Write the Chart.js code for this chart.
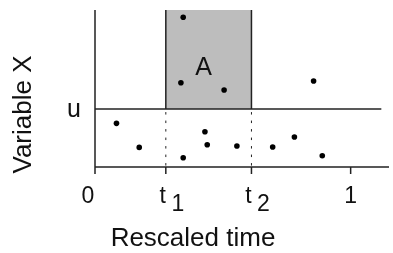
<!DOCTYPE html>
<html>
<head>
<meta charset="utf-8">
<script src="https://cdn.jsdelivr.net/npm/chart.js@4.4.1/dist/chart.umd.min.js"></script>
<style>
html, body { margin: 0; padding: 0; background: #fff; }
</style>
</head>
<body>
<canvas id="canvas" width="393" height="253"></canvas>
<script>
// observations, rescaled time vs variable X
var timeValues = [0.084, 0.173, 0.336, 0.345, 0.345, 0.430, 0.439, 0.505, 0.555, 0.695, 0.780, 0.855, 0.889];
var xValues    = [0.278, 0.125, 0.537, 0.954, 0.059, 0.225, 0.142, 0.490, 0.134, 0.127, 0.191, 0.548, 0.072];

var u = 0.369;
var t1 = 0.277;
var t2 = 0.612;
var tickValues = [0, t1, t2, 1];
var tickLabels = ['0', 't', 't', '1'];
var tickSubs = ['', '1', '2', ''];

var FONT = '"Liberation Sans", Arial, Helvetica, sans-serif';

var pts = [];
for (var i = 0; i < timeValues.length; i++) {
	pts.push({x: timeValues[i], y: xValues[i]});
}

var sketch = {
	id: 'sketch',
	beforeDatasetsDraw: function(chart) {
		var ctx = chart.ctx;
		var xs = chart.scales.x, ys = chart.scales.y;
		var a = chart.chartArea;
		var x1 = xs.getPixelForValue(t1), x2 = xs.getPixelForValue(t2);
		var yu = ys.getPixelForValue(u), yTop = ys.getPixelForValue(1);
		ctx.save();
		// region A
		ctx.fillStyle = '#bdbdbd';
		ctx.fillRect(x1, yTop, x2 - x1, yu - yTop);
		ctx.strokeStyle = '#222';
		ctx.lineWidth = 1.5;
		ctx.beginPath();
		ctx.moveTo(x1, yTop); ctx.lineTo(x1, yu);
		ctx.moveTo(x2, yTop); ctx.lineTo(x2, yu);
		ctx.stroke();
		// threshold u
		ctx.beginPath();
		ctx.moveTo(a.left, yu); ctx.lineTo(xs.getPixelForValue(1.12), yu);
		ctx.stroke();
		// dotted lines below u
		ctx.lineWidth = 1;
		ctx.setLineDash([2.5, 6]);
		ctx.beginPath();
		ctx.moveTo(x1, yu + 3); ctx.lineTo(x1, a.bottom);
		ctx.moveTo(x2, yu + 3); ctx.lineTo(x2, a.bottom);
		ctx.stroke();
		ctx.setLineDash([]);
		// axes
		ctx.lineWidth = 1.5;
		ctx.beginPath();
		ctx.moveTo(a.left, a.top); ctx.lineTo(a.left, a.bottom);
		ctx.moveTo(a.left, a.bottom); ctx.lineTo(a.right, a.bottom);
		for (var i = 0; i < tickValues.length; i++) {
			var px = xs.getPixelForValue(tickValues[i]);
			ctx.moveTo(px, a.bottom); ctx.lineTo(px, a.bottom + 7);
		}
		ctx.stroke();
		ctx.restore();
	},
	afterDraw: function(chart) {
		var ctx = chart.ctx;
		var xs = chart.scales.x, ys = chart.scales.y;
		var a = chart.chartArea;
		ctx.save();
		ctx.fillStyle = '#111';
		ctx.textBaseline = 'alphabetic';
		ctx.textAlign = 'center';
		// tick labels
		ctx.font = '23px ' + FONT;
		for (var i = 0; i < tickValues.length; i++) {
			var px = xs.getPixelForValue(tickValues[i]);
			if (tickSubs[i]) {
				ctx.fillText(tickLabels[i], px - 3, 203);
				ctx.fillText(tickSubs[i], px + 12, 211);
			} else {
				ctx.fillText(tickLabels[i], i == 0 ? px - 7 : px, 203);
			}
		}
		// u label
		ctx.font = '25px ' + FONT;
		ctx.fillText('u', 74, ys.getPixelForValue(u) + 8);
		// A label
		ctx.fillText('A', (xs.getPixelForValue(t1) + xs.getPixelForValue(t2)) / 2 - 5, 75);
		// axis titles
		ctx.font = '26px ' + FONT;
		ctx.fillText('Rescaled time', 193, 246);
		ctx.translate(31, (a.top + a.bottom) / 2 + 26);
		ctx.rotate(-Math.PI / 2);
		ctx.fillText('Variable X', 0, 0);
		ctx.restore();
	}
};

var ctx = document.getElementById('canvas').getContext('2d');
window.myChart = new Chart(ctx, {
	type: 'scatter',
	data: {
		datasets: [{
			data: pts,
			backgroundColor: '#000',
			borderColor: '#000',
			pointRadius: 2.8,
			borderWidth: 0
		}]
	},
	options: {
		responsive: false,
		animation: false,
		devicePixelRatio: 1,
		layout: { padding: { left: 95, right: 1, top: 10, bottom: 86 } },
		plugins: { legend: { display: false }, tooltip: { enabled: false } },
		scales: {
			x: { type: 'linear', min: 0, max: 1.15, display: false },
			y: { type: 'linear', min: 0, max: 1, display: false }
		}
	},
	plugins: [sketch]
});
</script>
</body>
</html>
